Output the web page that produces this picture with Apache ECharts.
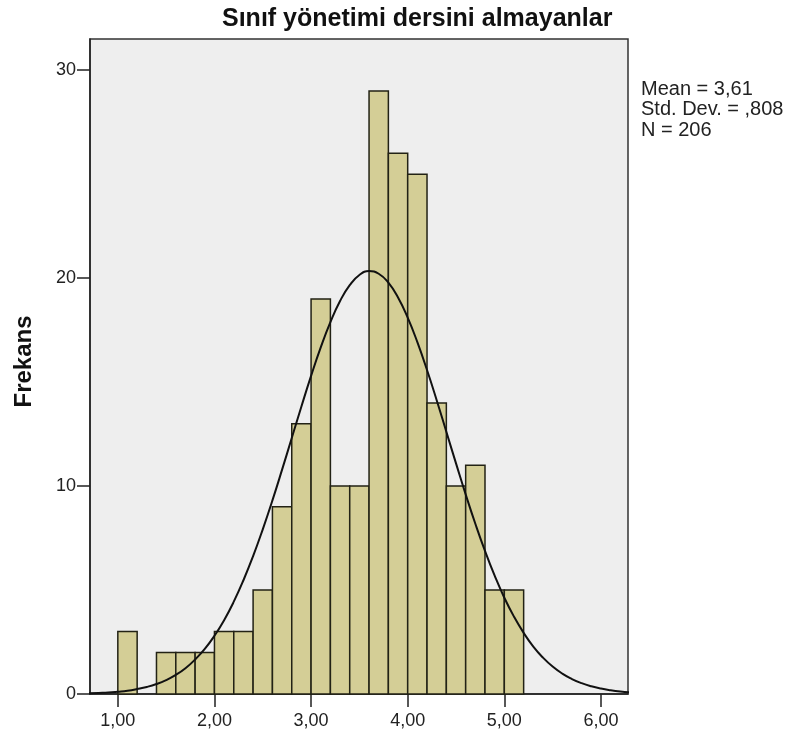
<!DOCTYPE html>
<html>
<head>
<meta charset="utf-8">
<script src="https://cdn.jsdelivr.net/npm/echarts@6/dist/echarts.min.js"></script>
<style>
  html, body { margin: 0; padding: 0; background: #fff; }
  #main { width: 789px; height: 742px; }
</style>
</head>
<body>
<div id="main"></div>
<script>
// histogram bins (width 0,2) and counts
var binStart = [1.0, 1.2, 1.4, 1.6, 1.8, 2.0, 2.2, 2.4, 2.6, 2.8, 3.0, 3.2, 3.4, 3.6, 3.8, 4.0, 4.2, 4.4, 4.6, 4.8, 5.0];
var binEnd = [1.2, 1.4, 1.6, 1.8, 2.0, 2.2, 2.4, 2.6, 2.8, 3.0, 3.2, 3.4, 3.6, 3.8, 4.0, 4.2, 4.4, 4.6, 4.8, 5.0, 5.2];
var counts = [3, 0, 2, 2, 2, 3, 3, 5, 9, 13, 19, 10, 10, 29, 26, 25, 14, 10, 11, 5, 5];

// normal curve
var curveX = [0.7, 0.8, 0.9, 1.0, 1.1, 1.2, 1.3, 1.4, 1.5, 1.6, 1.7, 1.8, 1.9, 2.0, 2.1, 2.2, 2.3, 2.4, 2.5, 2.6,
  2.7, 2.8, 2.9, 3.0, 3.1, 3.2, 3.3, 3.4, 3.5, 3.6, 3.7, 3.8, 3.9, 4.0, 4.1, 4.2, 4.3, 4.4, 4.5, 4.6,
  4.7, 4.8, 4.9, 5.0, 5.1, 5.2, 5.3, 5.4, 5.5, 5.6, 5.7, 5.8, 5.9, 6.0, 6.1, 6.2, 6.3];
var curveY = [0.03, 0.05, 0.07, 0.11, 0.16, 0.24, 0.34, 0.48, 0.67, 0.92, 1.24, 1.66, 2.17, 2.80, 3.55, 4.44, 5.47, 6.63, 7.92, 9.31,
  10.79, 12.31, 13.83, 15.30, 16.67, 17.88, 18.90, 19.66, 20.15, 20.34, 20.21, 19.78, 19.07, 18.10, 16.92, 15.58, 14.13, 12.61, 11.09, 9.60,
  8.19, 6.88, 5.69, 4.63, 3.72, 2.94, 2.28, 1.75, 1.32, 0.98, 0.72, 0.52, 0.37, 0.26, 0.18, 0.12, 0.08];

var xTicks = [1, 2, 3, 4, 5, 6];
var yTicks = [0, 10, 20, 30];
var statsLines = ["Mean = 3,61", "Std. Dev. = ,808", "N = 206"];

var myChart = echarts.init(document.getElementById("main"));

var barData = counts.map(function (c, i) {
  return [binStart[i], binEnd[i], c];
});
var lineData = curveX.map(function (x, i) {
  return [x, curveY[i]];
});

var option = {
  animation: false,
  backgroundColor: "#ffffff",
  title: [
    {
      text: "Sınıf yönetimi dersini almayanlar",
      left: 217,
      top: 2,
      textStyle: {
        fontFamily: "Liberation Sans",
        fontWeight: "bold",
        fontSize: 25,
        color: "#111",
      },
    },
    {
      text: statsLines.join("\n"),
      left: 636,
      top: 74,
      textStyle: {
        fontFamily: "Liberation Sans",
        fontWeight: "normal",
        fontSize: 20,
        lineHeight: 20.5,
        color: "#222",
      },
    },
  ],
  grid: {
    left: 90,
    right: 161,
    top: 39,
    bottom: 48,
    show: true,
    backgroundColor: "#eeeeee",
    borderColor: "#333",
    borderWidth: 1.5,
  },
  xAxis: {
    type: "value",
    min: 0.712,
    max: 6.28,
    axisLine: { show: true, onZero: false, lineStyle: { color: "#222", width: 1.5 } },
    axisTick: { show: true, length: 13, customValues: xTicks, lineStyle: { color: "#222", width: 1.5 } },
    axisLabel: {
      customValues: xTicks,
      margin: 18,
      fontFamily: "Liberation Sans",
      fontSize: 18,
      color: "#222",
      formatter: function (v) {
        return v.toFixed(2).replace(".", ",");
      },
    },
    splitLine: { show: false },
  },
  yAxis: {
    type: "value",
    min: 0,
    max: 31.5,
    name: "Frekans",
    nameLocation: "middle",
    nameGap: 54,
    nameTextStyle: {
      fontFamily: "Liberation Sans",
      fontWeight: "bold",
      fontSize: 24,
      color: "#111",
      padding: [0, 0, 0, 10],
    },
    axisLine: { show: true, lineStyle: { color: "#222", width: 1.5 } },
    axisTick: { show: true, length: 13, customValues: yTicks, lineStyle: { color: "#222", width: 1.5 } },
    axisLabel: {
      customValues: yTicks,
      margin: 14,
      fontFamily: "Liberation Sans",
      fontSize: 18,
      color: "#222",
    },
    splitLine: { show: false },
  },
  series: [
    {
      type: "custom",
      data: barData,
      encode: { x: [0, 1], y: 2 },
      renderItem: function (params, api) {
        if (api.value(2) <= 0) return null;
        var p0 = api.coord([api.value(0), 0]);
        var p1 = api.coord([api.value(1), api.value(2)]);
        return {
          type: "rect",
          shape: { x: p0[0], y: p1[1], width: p1[0] - p0[0], height: p0[1] - p1[1] },
          style: { fill: "#d4ce96", stroke: "#222215", lineWidth: 1.5 },
        };
      },
    },
    {
      type: "line",
      data: lineData,
      smooth: true,
      showSymbol: false,
      clip: true,
      lineStyle: { color: "#111", width: 2 },
      z: 5,
    },
  ],
};
option && myChart.setOption(option);
</script>
</body>
</html>
